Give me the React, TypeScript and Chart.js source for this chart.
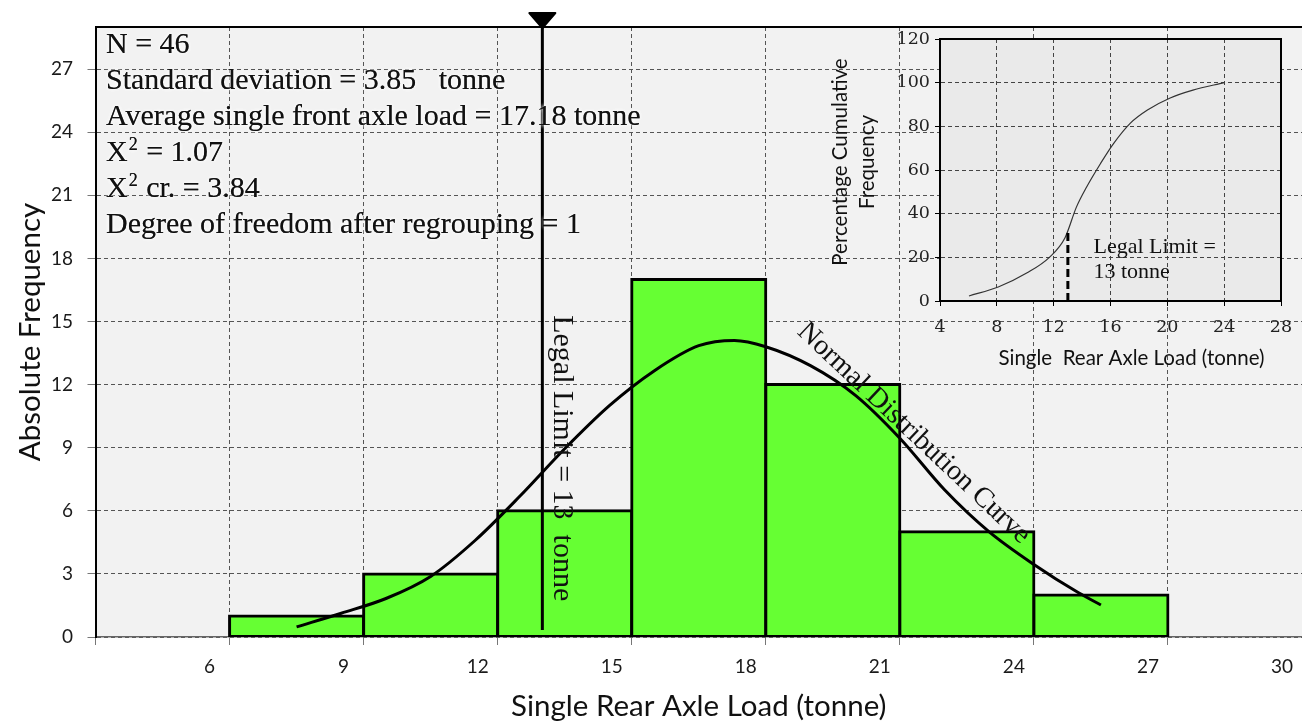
import React, { useEffect, useRef } from 'react';
import { Chart, registerables } from 'chart.js';

Chart.register(...registerables);

// Histogram of single rear axle loads (tonne): bin lower edges and observed counts
const binStarts = [6, 9, 12, 15, 18, 21, 24];
const binWidth = 3;
const frequencies = [1, 3, 6, 17, 12, 5, 2];

// Fitted normal distribution curve (load in tonne, absolute frequency)
const normalLoads = [7.5, 8.5, 9.5, 10.5, 11.5, 12.5, 13.5, 14.5, 15.5, 16.5, 17.3, 18.0, 19.0, 20.0, 21.0, 22.0, 23.0, 24.0, 25.0, 25.5];
const normalFreqs = [0.48, 1.13, 1.83, 2.88, 4.6, 6.7, 8.95, 11.0, 12.65, 13.85, 14.1, 13.8, 12.9, 11.5, 9.45, 7.0, 5.0, 3.45, 2.1, 1.52];

// Inset: percentage cumulative frequency
const cumLoads = [6.04, 8.1, 10.1, 11.7, 12.8, 13.6, 14.3, 15.3, 16.2, 17.4, 18.6, 20.2, 21.8, 24];
const cumPercents = [2.3, 6.4, 12.8, 20, 29, 43, 52, 63, 72, 81.5, 87.5, 93, 96.6, 100];

// Legal limit marker
const legalLimit = 13; // tonne
const legalLineBottom = 0.33; // frequency where the main marker line stops
const insetLimitTop = 33; // percent reached by the inset's dashed marker

// Axis ranges and tick steps
const mainX = { min: 3, max: 30, step: 3 };
const mainY = { min: 0, max: 29, step: 3 };
const insetX = { min: 4, max: 28, step: 4 };
const insetY = { min: 0, max: 120, step: 20 };

// Axis titles
const mainXTitle = 'Single Rear Axle Load (tonne)';
const mainYTitle = 'Absolute Frequency';
const insetXTitle = 'Single  Rear Axle Load (tonne)';
const insetYTitle = ['Percentage Cumulative', 'Frequency'];

// Summary statistics shown in the upper-left corner ("^2" marks a superscript)
const statLines = [
  'N = 46',
  'Standard deviation = 3.85   tonne',
  'Average single front axle load = 17.18 tonne',
  'X^2 = 1.07',
  'X^2 cr. = 3.84',
  'Degree of freedom after regrouping = 1',
];

const SERIF = '"Liberation Serif", "Times New Roman", serif';
const SANS = 'Lato, "Open Sans", sans-serif';

const W = 1302;
const H = 724;
const INSET = { left: 820, top: 20, width: 482, height: 370 };

function glowText(ctx: CanvasRenderingContext2D, text: string, x: number, y: number) {
  ctx.save();
  ctx.shadowColor = 'rgba(255,255,255,0.95)';
  ctx.shadowBlur = 4;
  ctx.fillText(text, x, y);
  ctx.fillText(text, x, y);
  ctx.restore();
}

const mainDecor = {
  id: 'mainDecor',
  beforeDraw(chart: any) {
    const { ctx, chartArea: a } = chart;
    ctx.save();
    ctx.fillStyle = '#ffffff';
    ctx.fillRect(0, 0, chart.width, chart.height);
    ctx.fillStyle = '#f2f2f2';
    ctx.fillRect(a.left, a.top, a.right - a.left, a.bottom - a.top);
    ctx.restore();
  },
  afterDatasetsDraw(chart: any) {
    const { ctx, chartArea: a } = chart;
    const xs = chart.scales.x;
    const ys = chart.scales.y;
    const lx = xs.getPixelForValue(legalLimit);
    ctx.save();
    // frame line along the top of the plot
    ctx.strokeStyle = '#000';
    ctx.lineWidth = 2;
    ctx.beginPath();
    ctx.moveTo(a.left, a.top);
    ctx.lineTo(a.right, a.top);
    ctx.stroke();
    // legal limit marker with its arrow head
    ctx.lineWidth = 3;
    ctx.beginPath();
    ctx.moveTo(lx, a.top);
    ctx.lineTo(lx, ys.getPixelForValue(legalLineBottom));
    ctx.stroke();
    ctx.fillStyle = '#000';
    ctx.lineJoin = 'round';
    ctx.lineWidth = 2;
    ctx.beginPath();
    ctx.moveTo(lx - 13, a.top - 14);
    ctx.lineTo(lx + 13, a.top - 14);
    ctx.lineTo(lx, a.top + 1);
    ctx.closePath();
    ctx.fill();
    ctx.stroke();
    ctx.restore();
  },
  afterDraw(chart: any) {
    const { ctx, chartArea: a } = chart;
    const xs = chart.scales.x;
    const ys = chart.scales.y;
    ctx.save();
    ctx.fillStyle = '#111';
    ctx.textBaseline = 'alphabetic';
    ctx.textAlign = 'left';
    statLines.forEach((line, i) => {
      const y = a.top + 26 + i * 36;
      let x = a.left + 10.5;
      line.split(/(\^2)/).forEach((seg) => {
        if (!seg) return;
        if (seg === '^2') {
          ctx.font = `18px ${SERIF}`;
          glowText(ctx, '2', x + 1, y - 11);
          x += ctx.measureText('2').width + 2;
        } else {
          ctx.font = `30px ${SERIF}`;
          glowText(ctx, seg, x, y);
          x += ctx.measureText(seg).width;
        }
      });
    });

    // vertical label beside the legal limit marker
    const lx = xs.getPixelForValue(legalLimit);
    ctx.save();
    ctx.translate(lx + 12, ys.getPixelForValue(15.3));
    ctx.rotate(Math.PI / 2);
    ctx.font = `30px ${SERIF}`;
    ctx.fillStyle = '#111';
    ctx.fillText('Legal Limit = 13  tonne', 0, 0);
    ctx.restore();

    // label running along the fitted curve
    ctx.save();
    ctx.translate(xs.getPixelForValue(18.68), ys.getPixelForValue(14.45));
    ctx.rotate((43.3 * Math.PI) / 180);
    ctx.font = `28.5px ${SERIF}`;
    ctx.fillStyle = '#111';
    ctx.fillText('Normal Distribution Curve', 0, 0);
    ctx.restore();
    ctx.restore();
  },
};

const insetDecor = {
  id: 'insetDecor',
  beforeDraw(chart: any) {
    const { ctx, chartArea: a } = chart;
    ctx.save();
    ctx.fillStyle = '#eaeaea';
    ctx.fillRect(a.left, a.top, a.right - a.left, a.bottom - a.top);
    ctx.restore();
  },
  afterDatasetsDraw(chart: any) {
    const { ctx, chartArea: a } = chart;
    const xs = chart.scales.x;
    const ys = chart.scales.y;
    const lx = xs.getPixelForValue(legalLimit);
    ctx.save();
    ctx.strokeStyle = '#000';
    ctx.lineWidth = 3;
    ctx.setLineDash([8, 4]);
    ctx.beginPath();
    ctx.moveTo(lx, ys.getPixelForValue(0));
    ctx.lineTo(lx, ys.getPixelForValue(insetLimitTop));
    ctx.stroke();
    ctx.setLineDash([]);
    ctx.lineWidth = 2;
    ctx.strokeRect(a.left, a.top, a.right - a.left, a.bottom - a.top);
    ctx.font = `22px ${SERIF}`;
    ctx.fillStyle = '#111';
    ctx.textAlign = 'left';
    ctx.textBaseline = 'alphabetic';
    ctx.fillText('Legal Limit =', xs.getPixelForValue(14.8), ys.getPixelForValue(22));
    ctx.fillText('13 tonne', xs.getPixelForValue(14.8), ys.getPixelForValue(10.5));
    ctx.restore();
  },
  afterDraw(chart: any) {
    const { ctx, chartArea: a } = chart;
    ctx.save();
    ctx.fillStyle = '#111';
    ctx.font = `20.5px ${SANS}`;
    ctx.textAlign = 'center';
    ctx.textBaseline = 'middle';
    // axis titles, the horizontal one sits a little right of the plot centre
    ctx.fillText(insetXTitle, (a.left + a.right) / 2 + 21, a.bottom + 57);
    const cy = (a.top + a.bottom) / 2 - 8;
    insetYTitle.forEach((t, i) => {
      ctx.save();
      ctx.translate(20 + i * 27, cy);
      ctx.rotate(-Math.PI / 2);
      ctx.fillText(t, 0, 0);
      ctx.restore();
    });
    ctx.restore();
  },
};

export default function App() {
  const mainRef = useRef<HTMLCanvasElement | null>(null);
  const insetRef = useRef<HTMLCanvasElement | null>(null);

  useEffect(() => {
    if (!mainRef.current || !insetRef.current) return;

    const barPoints = binStarts.map((s, i) => ({ x: s + binWidth / 2, y: frequencies[i] }));
    const curvePoints = normalLoads.map((x, i) => ({ x, y: normalFreqs[i] }));
    const cumPoints = cumLoads.map((x, i) => ({ x, y: cumPercents[i] }));

    const main = new Chart(mainRef.current, {
      type: 'bar',
      data: {
        datasets: [
          {
            type: 'line',
            data: curvePoints,
            borderColor: '#000',
            borderWidth: 3,
            pointRadius: 0,
            cubicInterpolationMode: 'monotone',
            fill: false,
            order: 0,
          } as any,
          {
            type: 'bar',
            data: barPoints,
            backgroundColor: '#66ff33',
            borderColor: '#000',
            borderWidth: 3,
            borderSkipped: false,
            inflateAmount: 1.5,
            barPercentage: 1,
            categoryPercentage: 1,
            order: 1,
          } as any,
        ],
      },
      options: {
        animation: false,
        responsive: false,
        events: [],
        layout: { padding: { top: 27, left: 0, right: 0, bottom: 0 } },
        plugins: { legend: { display: false }, tooltip: { enabled: false } },
        scales: {
          x: {
            type: 'linear',
            min: mainX.min,
            max: mainX.max,
            offset: false,
            grid: { color: '#555', lineWidth: 1, tickLength: 8, tickColor: '#777', offset: false },
            border: { color: '#666', width: 1.5, dash: [4, 3] },
            ticks: {
              stepSize: mainX.step,
              autoSkip: false,
              maxRotation: 0,
              labelOffset: -20,
              padding: 10,
              color: '#1a1a1a',
              font: { family: SANS, size: 19 },
              callback: (v: any) => (Number(v) === mainX.min ? '' : String(v)),
            },
            title: {
              display: true,
              text: mainXTitle,
              color: '#111',
              font: { family: SANS, size: 29.5 },
              padding: { top: 0, bottom: 0 },
            },
            afterFit(scale: any) {
              scale.height = H - 637;
              scale.paddingLeft = 0;
              scale.paddingRight = 0;
            },
          },
          y: {
            type: 'linear',
            min: mainY.min,
            max: mainY.max,
            grid: { color: '#555', lineWidth: 1, tickLength: 8, tickColor: '#777' },
            border: { color: '#000', width: 2, dash: [4, 3] },
            ticks: {
              stepSize: mainY.step,
              includeBounds: false,
              padding: 14.5,
              color: '#1a1a1a',
              font: { family: SANS, size: 19 },
            },
            title: {
              display: true,
              text: mainYTitle,
              color: '#111',
              font: { family: SANS, size: 29.5 },
              padding: { top: 12.3, bottom: 0 },
            },
            afterFit(scale: any) {
              scale.width = 95.5;
              scale.paddingTop = 0;
              scale.paddingBottom = 0;
            },
          },
        },
      },
      plugins: [mainDecor],
    } as any);

    const inset = new Chart(insetRef.current, {
      type: 'line',
      data: {
        datasets: [
          {
            data: cumPoints,
            borderColor: '#333',
            borderWidth: 1.2,
            pointRadius: 0,
            cubicInterpolationMode: 'monotone',
            fill: false,
          },
        ],
      },
      options: {
        animation: false,
        responsive: false,
        events: [],
        layout: { padding: { top: 19, right: 21, left: 0, bottom: 0 } },
        plugins: { legend: { display: false }, tooltip: { enabled: false } },
        scales: {
          x: {
            type: 'linear',
            min: insetX.min,
            max: insetX.max,
            grid: { color: '#444', lineWidth: 1, tickLength: 5, tickColor: '#000' },
            border: { color: '#000', width: 2, dash: [4, 3] },
            ticks: {
              stepSize: insetX.step,
              autoSkip: false,
              maxRotation: 0,
              padding: 10.8,
              color: '#222',
              font: { family: '"DejaVu Serif", serif', size: 17.5 },
            },
            afterFit(scale: any) {
              scale.height = INSET.height - 281;
              scale.paddingLeft = 0;
              scale.paddingRight = 0;
            },
          },
          y: {
            type: 'linear',
            min: insetY.min,
            max: insetY.max,
            grid: { color: '#444', lineWidth: 1, tickLength: 5, tickColor: '#000' },
            border: { color: '#000', width: 2, dash: [4, 3] },
            ticks: {
              stepSize: insetY.step,
              padding: 5,
              color: '#222',
              font: { family: '"DejaVu Serif", serif', size: 17.5 },
            },
            afterFit(scale: any) {
              scale.width = 120;
              scale.paddingTop = 0;
              scale.paddingBottom = 0;
            },
          },
        },
      },
      plugins: [insetDecor],
    } as any);

    return () => {
      main.destroy();
      inset.destroy();
    };
  }, []);

  return (
    <div style={{ position: 'absolute', left: 0, top: 0, width: W, height: H, background: '#fff' }}>
      <canvas ref={mainRef} width={W} height={H} style={{ position: 'absolute', left: 0, top: 0 }} />
      <canvas
        ref={insetRef}
        width={INSET.width}
        height={INSET.height}
        style={{ position: 'absolute', left: INSET.left, top: INSET.top }}
      />
    </div>
  );
}
